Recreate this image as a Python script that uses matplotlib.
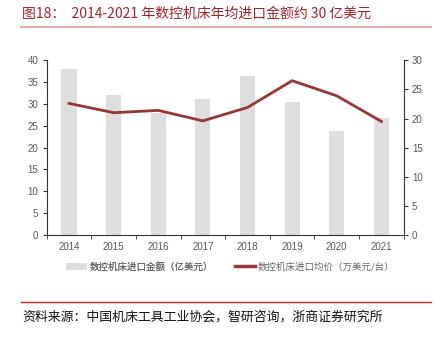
import matplotlib
matplotlib.use("Agg")
import matplotlib.pyplot as plt
from matplotlib.lines import Line2D
from matplotlib.patches import Patch
import numpy as np

plt.rcParams['font.family'] = ['Liberation Sans', 'Noto Sans CJK SC', 'DejaVu Sans']

years = ["2014", "2015", "2016", "2017", "2018", "2019", "2020", "2021"]
import_value = [37.9, 32.0, 27.9, 31.2, 36.4, 30.5, 23.8, 26.9]   # 亿美元
avg_price = [22.6, 21.0, 21.4, 19.6, 21.9, 26.5, 23.9, 19.5]      # 万美元/台

title = "图18：  2014-2021 年数控机床年均进口金额约 30 亿美元"
source = "资料来源：中国机床工具工业协会，智研咨询，浙商证券研究所"
bar_label = "数控机床进口金额（亿美元）"
line_label = "数控机床进口均价（万美元/台）"

W, H = 441, 337
fig = plt.figure(figsize=(W / 100, H / 100), dpi=100)

ax = fig.add_axes([46.7 / W, 1 - 235 / H, (403.7 - 46.7) / W, (235 - 60.3) / H])
x = np.arange(len(years))
ax.bar(x, import_value, width=0.34, color="#DEDEDE", zorder=1)
ax.set_xlim(-0.5, len(years) - 0.5)
ax.set_ylim(0, 40)
ax.set_yticks(range(0, 41, 5))
ax.set_xticks(x)
ax.set_xticklabels(years)
ax.set_xticks(np.arange(-0.5, len(years), 1), minor=True)
ax.tick_params(axis="x", which="major", length=0, pad=5, labelsize=7, labelcolor="#595959")
ax.tick_params(axis="x", which="minor", length=3, direction="out", color="#333333")
ax.tick_params(axis="y", length=3, direction="out", labelsize=7, labelcolor="#595959", color="#333333", pad=3)
for s in ["top", "right"]:
    ax.spines[s].set_visible(False)
ax.spines["left"].set_color("#333333")
ax.spines["bottom"].set_color("#333333")
ax.spines["left"].set_linewidth(0.8)
ax.spines["bottom"].set_linewidth(0.8)

ax2 = ax.twinx()
ax2.plot(x, avg_price, color="#953735", linewidth=2.0, zorder=3)
ax2.set_ylim(0, 30)
ax2.set_yticks(range(0, 31, 5))
ax2.tick_params(axis="y", length=3, direction="out", labelsize=7, labelcolor="#595959", color="#333333", pad=3)
for s in ["top", "left", "bottom"]:
    ax2.spines[s].set_visible(False)
ax2.spines["right"].set_color("#333333")
ax2.spines["right"].set_linewidth(0.8)

leg_prop = {"family": ["Noto Sans CJK SC"], "size": 6.8}
leg1 = fig.legend([Patch(facecolor="#DEDEDE", edgecolor="none")], [bar_label],
                  loc="center left", bbox_to_anchor=(58 / W, 1 - 267 / H), frameon=False, prop=leg_prop,
                  labelcolor="#666666", handlelength=2.2, handleheight=0.7, handletextpad=0.3)
fig.add_artist(leg1)
fig.legend([Line2D([0], [0], color="#953735", linewidth=2.5)], [line_label],
           loc="center left", bbox_to_anchor=(226 / W, 1 - 267 / H), frameon=False, prop=leg_prop,
           labelcolor="#666666", handlelength=2.2, handletextpad=0.3)

fig.text(22 / W, 1 - 14 / H, title, color="#A3232B", fontsize=10,
         family=["Noto Sans CJK SC", "DejaVu Sans"], va="center", ha="left")
fig.add_artist(Line2D([21 / W, 431 / W], [1 - 27 / H, 1 - 27 / H], color="#E39A9A", linewidth=1.2,
                      transform=fig.transFigure))
fig.add_artist(Line2D([21 / W, 431 / W], [1 - 302 / H, 1 - 302 / H], color="#E0202A", linewidth=1.0,
                      transform=fig.transFigure))
fig.text(22 / W, 1 - 317 / H, source, color="#111111", fontsize=9.3,
         family=["Noto Sans CJK SC", "DejaVu Sans"], va="center", ha="left")

fig.savefig("out.png", dpi=100)
